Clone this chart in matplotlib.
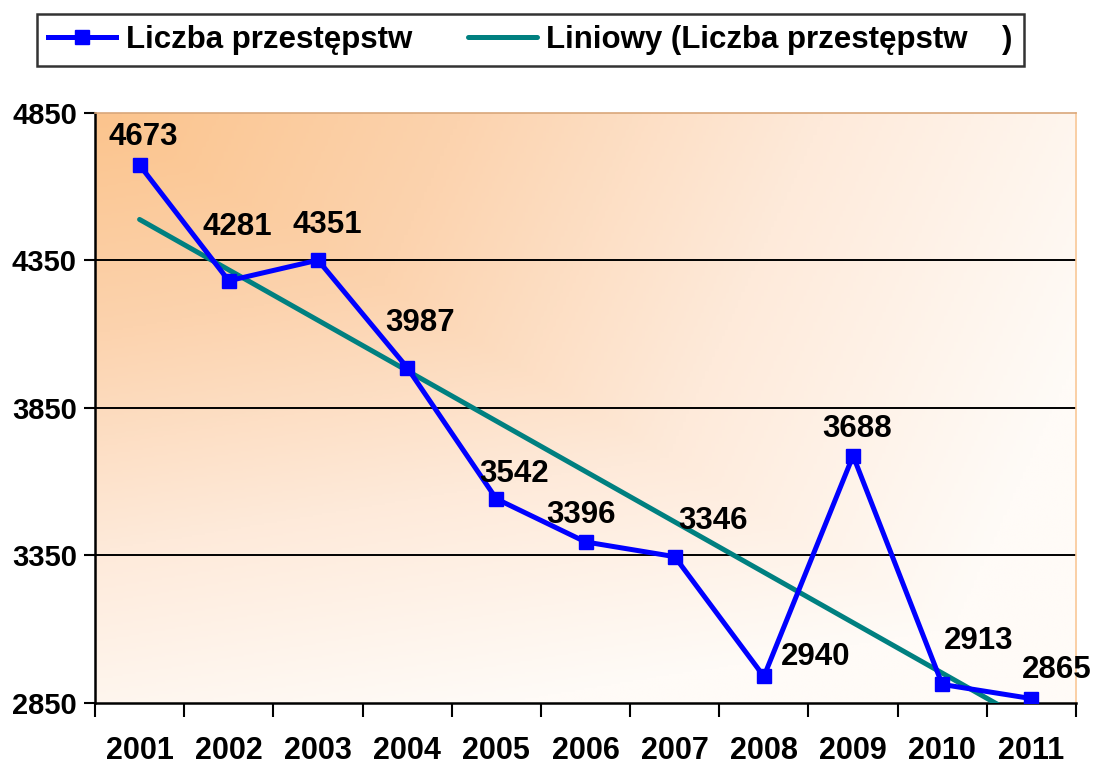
import numpy as np
import matplotlib
matplotlib.use("Agg")
import matplotlib.pyplot as plt
from matplotlib.colors import LinearSegmentedColormap
from matplotlib.ticker import FixedLocator

plt.rcParams["font.family"] = ["Liberation Sans", "DejaVu Sans"]
plt.rcParams["font.weight"] = "bold"

years = ["2001", "2002", "2003", "2004", "2005", "2006",
         "2007", "2008", "2009", "2010", "2011"]
crimes = [4673, 4281, 4351, 3987, 3542, 3396, 3346, 2940, 3688, 2913, 2865]
y_ticks = [2850, 3350, 3850, 4350, 4850]

# label baseline offsets in points (dx, dy) relative to each marker
label_off = [(3, 14.4), (5.8, 33), (6.5, 19.4), (9.4, 26.6), (13, 12.2),
             (-3.6, 13.7), (27.4, 20.2), (37.4, 8.6), (2.9, 13.7),
             (26, 25.2), (18, 15.1)]

x = np.arange(len(years))
slope, icpt = np.polyfit(x, crimes, 1)
trend = slope * x + icpt

fig = plt.figure(figsize=(10.93, 7.68), dpi=100)
ax = fig.add_axes([0.0869, 0.0846, 0.9845 - 0.0869, 0.853 - 0.0846])

# corner gradient: orange top-left fading to near-white
u, v = np.meshgrid(np.linspace(0, 1, 300), np.linspace(0, 1, 300))
t = np.clip(0.65 * np.maximum(u, v) + 0.35 * (u + v) / 2 * 1.4, 0, 1)
cmap = LinearSegmentedColormap.from_list(
    "bg", ["#FBC48D", "#FCD3AE", "#FEEADA", "#FFFBF7"])
ax.imshow(t, cmap=cmap, extent=[-0.5, 10.5, 2850, 4850], origin="upper",
          aspect="auto", zorder=0, interpolation="bilinear")

ax.set_xlim(-0.5, 10.5)
ax.set_ylim(2850, 4850)

for yv in y_ticks[1:-1]:
    ax.axhline(yv, color="black", lw=1.4, zorder=1)

ax.plot(x, trend, color="#008080", lw=3.6, zorder=3, solid_capstyle="round",
        label="Liniowy (Liczba przestępstw    )")
ax.plot(x, crimes, color="#0000FF", lw=3.6, marker="s", markersize=10,
        zorder=4, label="Liczba przestępstw")

for xi, val, (dx, dy) in zip(x, crimes, label_off):
    ax.annotate(str(val), (xi, val), xytext=(dx, dy), textcoords="offset points",
                ha="center", va="baseline", fontsize=22.5, fontweight="bold",
                zorder=5)

ax.set_yticks(y_ticks)
ax.set_yticklabels([str(v) for v in y_ticks], fontsize=21, fontweight="bold")
ax.tick_params(axis="y", length=8, width=1.5, pad=5)

ax.set_xticks(x)
ax.set_xticklabels(years, fontsize=22, fontweight="bold")
ax.tick_params(axis="x", which="major", length=0, pad=24)
ax.xaxis.set_minor_locator(FixedLocator(np.arange(-0.5, 11, 1)))
ax.tick_params(axis="x", which="minor", length=10, width=1.5)

ax.spines["left"].set_linewidth(1.8)
ax.spines["bottom"].set_linewidth(1.8)
ax.spines["top"].set_color("#D9A77A")
ax.spines["right"].set_color("#F9C898")
ax.spines["top"].set_linewidth(1.2)
ax.spines["right"].set_linewidth(1.2)

h, l = ax.get_legend_handles_labels()
leg = fig.legend(h[::-1], l[::-1], loc="center", ncol=2,
                 bbox_to_anchor=(0.485, 0.948),
                 prop={"weight": "bold", "size": 22.5}, frameon=True,
                 fancybox=False, edgecolor="black", handlelength=2.2,
                 columnspacing=1.8, borderpad=0.35, handletextpad=0.3)
leg.get_frame().set_linewidth(1.8)

fig.savefig("out.png", dpi=100, facecolor="white")
